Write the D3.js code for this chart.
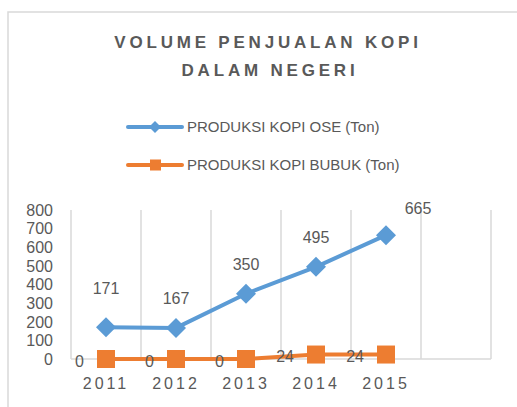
<!DOCTYPE html>
<html>
<head>
<meta charset="utf-8">
<script src="https://cdn.jsdelivr.net/npm/d3@7"></script>
<style>
    body { margin: 0; background: #fff; }
    text { font-family: "Liberation Sans", Arial, sans-serif; fill: #595959; }
</style>
</head>
<body>
<div id="container"></div>
<script>

// Data
const years = ["2011", "2012", "2013", "2014", "2015"];
const ose = [171, 167, 350, 495, 665];
const bubuk = [0, 0, 0, 24, 24];
const yTicks = [0, 100, 200, 300, 400, 500, 600, 700, 800];
const seriesNames = ["PRODUKSI KOPI OSE (Ton)", "PRODUKSI KOPI BUBUK (Ton)"];

const width = 517;
const height = 407;
const blue = "#5b9bd5";
const orange = "#ed7d31";
const grid = "#d9d9d9";

const svg = d3.create("svg")
    .attr("width", width)
    .attr("height", height);

// cadre du graphique
svg.append("rect")
    .attr("x", 8).attr("y", 12)
    .attr("width", 530).attr("height", 420)
    .attr("fill", "none")
    .attr("stroke", grid)
    .attr("stroke-width", 1.5);

// Titre
const title = svg.append("text")
    .attr("text-anchor", "middle")
    .style("font-weight", "bold")
    .style("font-size", "17px")
    .style("letter-spacing", "3.8px");
title.append("tspan").attr("x", 268).attr("y", 48).text("VOLUME PENJUALAN KOPI");
title.append("tspan").attr("x", 270).attr("y", 76).text("DALAM NEGERI");

// Echelles: une catégorie vide en plus à droite
const plotLeft = 71, plotBottom = 359, plotTop = 210;
const x = d3.scaleBand()
    .domain(years)
    .range([plotLeft, plotLeft + 350]);
const bw = x.bandwidth();
const plotRight = plotLeft + bw * (years.length + 1);

const y = d3.scaleLinear()
    .domain([0, 800])
    .range([plotBottom, plotTop]);

// grille verticale
svg.append("g")
    .selectAll("line")
    .data(d3.range(years.length + 2))
    .join("line")
    .attr("x1", i => plotLeft + i * bw)
    .attr("x2", i => plotLeft + i * bw)
    .attr("y1", plotTop)
    .attr("y2", plotBottom)
    .attr("stroke", grid)
    .attr("stroke-width", 1.5);

svg.append("line")
    .attr("x1", plotLeft).attr("x2", plotRight)
    .attr("y1", plotBottom).attr("y2", plotBottom)
    .attr("stroke", grid)
    .attr("stroke-width", 1.5);

// axe Y
svg.append("g")
    .selectAll("text")
    .data(yTicks)
    .join("text")
    .attr("x", 53)
    .attr("y", d => y(d))
    .attr("dy", "0.36em")
    .attr("text-anchor", "end")
    .style("font-size", "16px")
    .text(d => d);

// axe X
svg.append("g")
    .selectAll("text")
    .data(years)
    .join("text")
    .attr("x", d => x(d) + bw / 2)
    .attr("y", 383)
    .attr("dy", "0.36em")
    .attr("text-anchor", "middle")
    .style("font-size", "16px")
    .style("letter-spacing", "3px")
    .text(d => d);

const cx = d => x(d) + bw / 2;
const line = d3.line().x((d, i) => cx(years[i])).y(d => y(d));

// série OSE
svg.append("path")
    .datum(ose)
    .attr("d", line)
    .attr("fill", "none")
    .attr("stroke", blue)
    .attr("stroke-width", 4)
    .attr("stroke-linejoin", "round");

svg.append("g")
    .selectAll("path")
    .data(ose)
    .join("path")
    .attr("d", "M0,-10L10,0L0,10L-10,0Z")
    .attr("transform", (d, i) => `translate(${cx(years[i])},${y(d)})`)
    .attr("fill", blue);

// série BUBUK
svg.append("path")
    .datum(bubuk)
    .attr("d", line)
    .attr("fill", "none")
    .attr("stroke", orange)
    .attr("stroke-width", 4)
    .attr("stroke-linejoin", "round");

svg.append("g")
    .selectAll("rect")
    .data(bubuk)
    .join("rect")
    .attr("x", (d, i) => cx(years[i]) - 9)
    .attr("y", d => y(d) - 9)
    .attr("width", 18)
    .attr("height", 18)
    .attr("fill", orange);

// étiquettes OSE (la dernière est décalée à droite)
svg.append("g")
    .selectAll("text")
    .data(ose)
    .join("text")
    .attr("x", (d, i) => cx(years[i]) + (i === ose.length - 1 ? 32 : 0))
    .attr("y", (d, i) => y(d) - (i === 0 ? 39 : 30) - (i === ose.length - 1 ? -3 : 0))
    .attr("dy", "0.36em")
    .attr("text-anchor", "middle")
    .style("font-size", "16px")
    .text(d => d);

// étiquettes BUBUK, à gauche des points
svg.append("g")
    .selectAll("text")
    .data(bubuk)
    .join("text")
    .attr("x", (d, i) => cx(years[i]) - 22)
    .attr("y", d => y(d) + 2)
    .attr("dy", "0.36em")
    .attr("text-anchor", "end")
    .style("font-size", "16px")
    .text(d => d);

// Légende
const legend = svg.append("g");
const legendItems = [
    { name: seriesNames[0], color: blue, shape: "diamond" },
    { name: seriesNames[1], color: orange, shape: "square" }
];
legendItems.forEach((item, i) => {
    const ly = 127 + i * 38;
    legend.append("line")
        .attr("x1", 128).attr("x2", 182)
        .attr("y1", ly).attr("y2", ly)
        .attr("stroke", item.color)
        .attr("stroke-width", 4)
        .attr("stroke-linecap", "round");
    if (item.shape === "diamond") {
        legend.append("path")
            .attr("d", `M155,${ly - 6}L161,${ly}L155,${ly + 6}L149,${ly}Z`)
            .attr("fill", item.color);
    } else {
        legend.append("rect")
            .attr("x", 150).attr("y", ly - 5.5)
            .attr("width", 11).attr("height", 11)
            .attr("fill", item.color);
    }
    legend.append("text")
        .attr("x", 187)
        .attr("y", ly)
        .attr("dy", "0.36em")
        .style("font-size", "15px")
        .text(item.name);
});

container.append(svg.node());

</script>
</body>
</html>
